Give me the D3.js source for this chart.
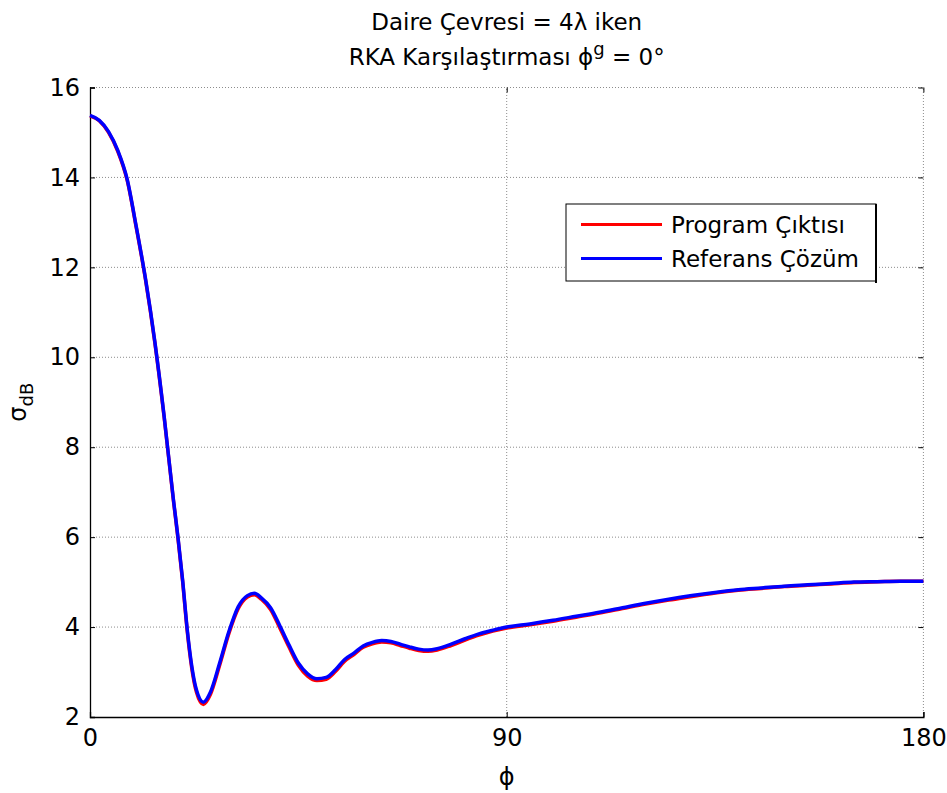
<!DOCTYPE html>
<html>
<head>
<meta charset="utf-8">
<script src="https://cdn.jsdelivr.net/npm/d3@7"></script>
<style>
  body { margin: 0; background: #fff; }
  text { font-family: "DejaVu Sans", "Liberation Sans", Arial, sans-serif; fill: #000; }
</style>
</head>
<body>
<script>
const width = 947;
const height = 793;
const margin = {top: 87.5, right: 23.6, bottom: 76, left: 90};

// phi angles (deg)
const phiDeg = [0, 2, 4, 6, 8, 10, 12, 14, 16, 18, 19, 20, 21, 22, 23, 24.5, 26, 28, 30, 32, 34, 35.5, 37, 39, 41, 43, 45, 47, 49, 51, 53, 55, 57, 59, 61, 63, 65, 67, 69, 71, 73, 75, 78, 81, 84, 87, 90, 95, 100, 105, 110, 115, 120, 125, 130, 135, 140, 145, 150, 155, 160, 165, 170, 175, 180];

// Referans Çözüm (blue)
const referenceSol = [15.38, 15.27, 15.02, 14.6, 13.97, 12.9, 11.74, 10.35, 8.7, 6.85, 6.0, 5.05, 3.95, 3.12, 2.6, 2.33, 2.55, 3.2, 3.9, 4.45, 4.7, 4.75, 4.65, 4.43, 4.03, 3.6, 3.2, 2.96, 2.85, 2.88, 3.05, 3.28, 3.42, 3.58, 3.66, 3.7, 3.68, 3.62, 3.56, 3.51, 3.49, 3.52, 3.62, 3.74, 3.85, 3.93, 4.0, 4.07, 4.15, 4.24, 4.33, 4.43, 4.53, 4.62, 4.7, 4.77, 4.83, 4.87, 4.91, 4.94, 4.97, 5.0, 5.01, 5.02, 5.02];

// Program Çıktısı (red)
const programOut = [15.37, 15.26, 15.0, 14.58, 13.95, 12.88, 11.72, 10.33, 8.68, 6.83, 5.97, 5.02, 3.91, 3.07, 2.55, 2.28, 2.5, 3.15, 3.86, 4.41, 4.67, 4.72, 4.62, 4.39, 3.98, 3.55, 3.15, 2.91, 2.81, 2.84, 3.01, 3.24, 3.39, 3.55, 3.63, 3.67, 3.65, 3.59, 3.53, 3.48, 3.46, 3.49, 3.59, 3.71, 3.82, 3.91, 3.98, 4.05, 4.13, 4.22, 4.31, 4.41, 4.51, 4.6, 4.68, 4.76, 4.82, 4.86, 4.9, 4.93, 4.96, 4.99, 5.01, 5.02, 5.02];

const xTicks = [0, 90, 180];
const yTicks = [2, 4, 6, 8, 10, 12, 14, 16];

const svg = d3.select("body").append("svg")
  .attr("width", width)
  .attr("height", height);

const x = d3.scaleLinear().domain([0, 180]).range([margin.left, width - margin.right]);
const y = d3.scaleLinear().domain([2, 16]).range([height - margin.bottom, margin.top]);

// grid
const gridColor = "#8c8c8c";
svg.append("g")
  .selectAll("line")
  .data(yTicks.slice(1))
  .enter().append("line")
  .attr("x1", x(0)).attr("x2", x(180))
  .attr("y1", d => y(d)).attr("y2", d => y(d))
  .style("stroke", gridColor)
  .style("stroke-width", 1)
  .style("stroke-dasharray", "1,2");

svg.append("g")
  .selectAll("line")
  .data(xTicks.slice(1))
  .enter().append("line")
  .attr("x1", d => x(d)).attr("x2", d => x(d))
  .attr("y1", y(2)).attr("y2", y(16))
  .style("stroke", gridColor)
  .style("stroke-width", 1)
  .style("stroke-dasharray", "1,2");

// axes (ticks inward)
const xAxis = svg.append("g")
  .attr("transform", `translate(0,${y(2)})`)
  .call(d3.axisBottom(x).tickValues(xTicks).tickSize(-5).tickPadding(12).tickFormat(d3.format("d")));
const yAxis = svg.append("g")
  .attr("transform", `translate(${x(0)},0)`)
  .call(d3.axisLeft(y).tickValues(yTicks).tickSize(-5).tickPadding(10).tickFormat(d3.format("d")));

// opposite side ticks
svg.append("g")
  .attr("transform", `translate(${x(180)},0)`)
  .call(d3.axisRight(y).tickValues(yTicks).tickSize(-5).tickFormat(""))
  .call(g => g.select(".domain").remove());
svg.append("g")
  .attr("transform", `translate(0,${y(16)})`)
  .call(d3.axisTop(x).tickValues(xTicks).tickSize(-5).tickFormat(""))
  .call(g => g.select(".domain").remove());

[xAxis, yAxis].forEach(g => {
  g.selectAll("text").style("font-size", "24px").style("font-family", "DejaVu Sans, Liberation Sans, Arial, sans-serif");
  g.select(".domain").style("stroke-width", 1.3);
});

// lines
const line = (vals) => d3.line()
  .x((d, i) => x(phiDeg[i]))
  .y(d => y(d))
  .curve(d3.curveMonotoneX)(vals);

svg.append("path")
  .attr("d", line(programOut))
  .style("fill", "none")
  .style("stroke", "#ff0000")
  .style("stroke-width", 3.5);

svg.append("path")
  .attr("d", line(referenceSol))
  .style("fill", "none")
  .style("stroke", "#0000ff")
  .style("stroke-width", 3.5);

// title
const cx = (x(0) + x(180)) / 2;
svg.append("text")
  .attr("x", cx).attr("y", 30)
  .attr("text-anchor", "middle")
  .style("font-size", "23px")
  .text("Daire Çevresi = 4λ iken");

const t2 = svg.append("text")
  .attr("x", cx).attr("y", 65)
  .attr("text-anchor", "middle")
  .style("font-size", "23px");
t2.append("tspan").text("RKA Karşılaştırması  ϕ");
t2.append("tspan").attr("dy", -10).style("font-size", "18px").text("g");
t2.append("tspan").attr("dy", 10).text(" = 0°");

// axis labels
svg.append("text")
  .attr("x", cx).attr("y", 785)
  .attr("text-anchor", "middle")
  .style("font-size", "24px")
  .text("ϕ");

const yl = svg.append("text")
  .attr("transform", `translate(26,${(y(2) + y(16)) / 2}) rotate(-90)`)
  .attr("text-anchor", "middle")
  .style("font-size", "24px");
yl.append("tspan").text("σ");
yl.append("tspan").attr("dy", 7).style("font-size", "18px").text("dB");

// legend
const legend = svg.append("g");
legend.append("rect")
  .attr("x", 566).attr("y", 204)
  .attr("width", 310).attr("height", 77)
  .style("fill", "#fff")
  .style("stroke", "#000")
  .style("stroke-width", 1);
legend.append("line")
  .attr("x1", 876).attr("x2", 876).attr("y1", 204).attr("y2", 283)
  .style("stroke", "#000").style("stroke-width", 2);

const legendItems = [
  {name: "Program Çıktısı", color: "#ff0000"},
  {name: "Referans Çözüm", color: "#0000ff"}
];
legendItems.forEach((d, i) => {
  const ly = 224.5 + i * 34;
  legend.append("line")
    .attr("x1", 581).attr("x2", 662)
    .attr("y1", ly).attr("y2", ly)
    .style("stroke", d.color)
    .style("stroke-width", 3);
  legend.append("text")
    .attr("x", 671).attr("y", ly + 8)
    .style("font-size", "23px")
    .text(d.name);
});
</script>
</body>
</html>
